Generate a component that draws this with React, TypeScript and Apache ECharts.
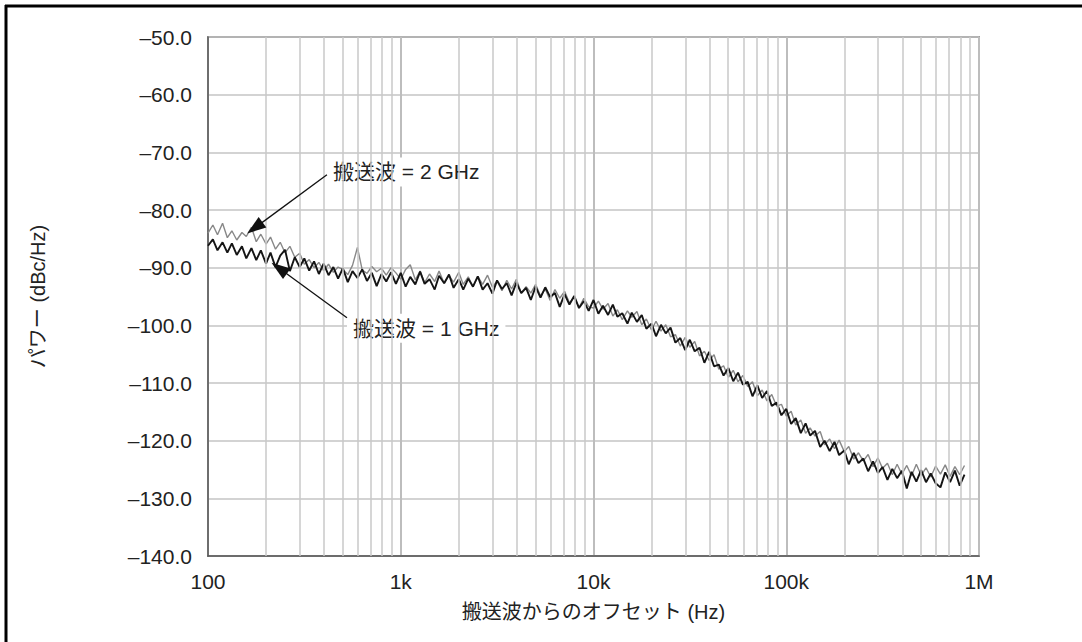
import React, { useEffect, useRef } from 'react';
import * as echarts from 'echarts';

const FONT = '"Liberation Sans", Arial, "Noto Sans CJK JP", sans-serif';

const freqs = [
  100, 106, 112, 119, 126, 133, 141, 150, 158, 168, 178, 188, 200, 211, 224, 237, 251, 266, 282, 299,
  316, 335, 355, 376, 398, 422, 447, 473, 501, 531, 562, 596, 631, 668, 708, 750, 794, 841, 891, 944,
  1000, 1060, 1120, 1190, 1260, 1330, 1410, 1500, 1580, 1680, 1780, 1880, 2000, 2110, 2240, 2370, 2510, 2660, 2820, 2990,
  3160, 3350, 3550, 3760, 3980, 4220, 4470, 4730, 5010, 5310, 5620, 5960, 6310, 6680, 7080, 7500, 7940, 8410, 8910, 9440,
  10000, 10600, 11200, 11900, 12600, 13300, 14100, 15000, 15800, 16800, 17800, 18800, 20000, 21100, 22400, 23700, 25100, 26600, 28200, 29900,
  31600, 33500, 35500, 37600, 39800, 42200, 44700, 47300, 50100, 53100, 56200, 59600, 63100, 66800, 70800, 75000, 79400, 84100, 89100, 94400,
  100000, 106000, 112000, 119000, 126000, 133000, 141000, 150000, 158000, 168000, 178000, 188000, 200000, 211000, 224000, 237000, 251000, 266000, 282000, 299000,
  316000, 335000, 355000, 376000, 398000, 422000, 447000, 473000, 501000, 531000, 562000, 596000, 631000, 668000, 708000, 750000, 794000, 841000,
];

const carrier2GHz = [
  -84.0, -82.6, -84.3, -82.3, -84.8, -83.6, -85.2, -83.9, -84.6, -83.0, -85.5, -84.2, -85.9, -84.7, -86.8, -85.6, -87.4, -86.3, -88.2, -87.5,
  -89.4, -88.6, -90.0, -89.1, -90.5, -89.4, -90.8, -89.9, -90.3, -91.2, -89.6, -86.5, -90.4, -91.0, -89.8, -90.7, -90.1, -91.3, -90.0, -90.9,
  -92.0, -90.3, -89.5, -92.1, -90.6, -92.6, -91.1, -92.4, -90.6, -92.7, -91.4, -92.5, -90.8, -92.9, -91.6, -93.3, -91.5, -92.9, -91.3, -93.4,
  -92.3, -94.0, -92.2, -93.7, -92.0, -94.4, -93.3, -94.4, -92.9, -94.9, -93.7, -95.7, -93.8, -95.3, -94.1, -96.1, -95.1, -96.9, -95.3, -96.8,
  -97.0, -95.8, -97.2, -96.2, -98.4, -97.3, -99.0, -97.5, -98.6, -97.6, -99.9, -98.9, -100.8, -99.3, -101.0, -99.9, -102.0, -101.6, -103.6, -102.1,
  -103.8, -102.8, -105.3, -104.5, -106.1, -105.1, -107.6, -107.0, -109.0, -107.8, -109.8, -108.7, -110.6, -109.8, -112.2, -111.2, -113.1, -112.0, -114.0, -113.7,
  -115.7, -114.9, -117.3, -116.4, -118.7, -117.8, -119.2, -118.4, -120.7, -119.7, -121.4, -119.9, -121.9, -121.0, -123.2, -122.1, -123.5, -122.4, -124.5, -123.0,
  -124.8, -123.9, -125.9, -124.1, -125.8, -124.3, -126.1, -124.1, -126.0, -124.7, -126.3, -124.4, -125.8, -124.2, -126.2, -124.5, -125.9, -124.3,
];

const carrier1GHz = [
  -86.2, -85.1, -87.0, -85.6, -87.4, -85.8, -87.8, -86.3, -88.4, -86.6, -88.7, -87.0, -89.3, -87.4, -89.9, -87.9, -86.9, -90.6, -88.2, -89.9,
  -88.4, -90.5, -88.9, -91.1, -89.3, -91.3, -89.9, -91.9, -90.1, -92.5, -90.6, -91.8, -90.3, -92.3, -90.9, -93.2, -91.1, -92.4, -90.8, -92.8,
  -90.9, -93.3, -91.6, -92.9, -90.7, -92.8, -92.0, -93.8, -91.4, -92.7, -91.2, -93.5, -92.0, -93.8, -91.9, -93.3, -91.5, -93.8, -92.7, -94.5,
  -92.2, -93.7, -92.7, -94.8, -92.6, -94.4, -93.5, -95.6, -93.3, -95.2, -93.4, -95.1, -94.4, -96.8, -94.6, -96.4, -94.9, -97.0, -95.8, -97.5,
  -95.6, -98.0, -96.6, -98.2, -96.4, -98.5, -97.9, -99.7, -97.8, -99.4, -98.2, -100.6, -99.7, -101.9, -99.9, -101.4, -100.4, -103.0, -102.2, -104.3,
  -102.5, -104.5, -103.9, -106.5, -104.6, -107.1, -106.8, -108.7, -107.4, -109.7, -108.2, -110.3, -109.8, -112.3, -110.4, -112.6, -111.4, -114.0, -113.4, -115.6,
  -114.5, -117.1, -116.1, -118.7, -117.0, -119.1, -118.3, -121.1, -120.0, -121.8, -120.2, -122.5, -121.7, -124.1, -122.1, -123.9, -123.1, -125.3, -123.6, -125.6,
  -124.6, -126.8, -124.9, -126.5, -125.2, -128.3, -125.4, -127.1, -125.1, -127.2, -125.7, -127.4, -128.1, -125.5, -127.2, -125.2, -127.8, -125.9,
];

const minorGridFreqs = [
  200, 300, 400, 500, 600, 700, 800, 900,
  2000, 3000, 4000, 5000, 6000, 7000, 8000, 9000,
  20000, 30000, 40000, 50000, 60000, 70000, 80000, 90000,
  200000, 300000, 400000, 500000, 600000, 700000, 800000, 900000,
];

const xTickLabels: Record<number, string> = { 100: '100', 1000: '1k', 10000: '10k', 100000: '100k', 1000000: '1M' };

const annotations = [
  { text: '搬送波 = 2 GHz', at: [445, -73.4], from: [414, -73.9], to: [175, -83.1] },
  { text: '搬送波 = 1 GHz', at: [565, -100.5], from: [526, -98.7], to: [234, -90.1] },
];

export default function App() {
  const ref = useRef<HTMLDivElement>(null);
  useEffect(() => {
    const chart = echarts.init(ref.current!, null, { renderer: 'svg' });
    const option: any = {
      animation: false,
      backgroundColor: '#fff',
      grid: { left: 208, right: 103, top: 37, bottom: 86, show: true, borderColor: '#555', borderWidth: 1.5 },
      xAxis: {
        type: 'log',
        logBase: 10,
        min: 100,
        max: 1000000,
        name: '搬送波からのオフセット (Hz)',
        nameLocation: 'middle',
        nameGap: 46,
        nameTextStyle: { fontFamily: FONT, fontSize: 20, color: '#222' },
        axisLine: { show: true, lineStyle: { color: '#555', width: 1.5 } },
        axisTick: { show: false },
        axisLabel: {
          fontFamily: FONT,
          fontSize: 21,
          color: '#222',
          margin: 15,
          formatter: (v: number) => xTickLabels[Math.round(v)] ?? '',
        },
        splitLine: { show: true, lineStyle: { color: '#bdbdbd', width: 2 } },
      },
      yAxis: {
        type: 'value',
        min: -140,
        max: -50,
        interval: 10,
        name: 'パワー (dBc/Hz)',
        nameLocation: 'middle',
        nameGap: 160,
        nameTextStyle: { fontFamily: FONT, fontSize: 20, color: '#222' },
        axisLine: { show: true, lineStyle: { color: '#555', width: 1.5 } },
        axisTick: { show: false },
        axisLabel: {
          fontFamily: FONT,
          fontSize: 21,
          color: '#222',
          margin: 16,
          formatter: (v: number) => (v < 0 ? '–' : '') + Math.abs(v).toFixed(1),
        },
        splitLine: { show: true, lineStyle: { color: '#c4c4c4', width: 1.5 } },
      },
      series: [
        {
          type: 'line',
          data: [],
          z: 1,
          silent: true,
          markLine: {
            silent: true,
            animation: false,
            symbol: ['none', 'none'],
            label: { show: false },
            lineStyle: { color: '#c8c8c8', width: 1.5, type: 'solid' },
            emphasis: { disabled: true },
            data: minorGridFreqs.map((f) => ({ xAxis: f })),
          },
        },
        {
          name: '搬送波 = 2 GHz',
          type: 'line',
          z: 3,
          data: freqs.map((f, i) => [f, carrier2GHz[i]]),
          showSymbol: false,
          lineStyle: { color: '#888888', width: 1.4 },
          silent: true,
        },
        {
          name: '搬送波 = 1 GHz',
          type: 'line',
          z: 4,
          data: freqs.map((f, i) => [f, carrier1GHz[i]]),
          showSymbol: false,
          lineStyle: { color: '#151515', width: 1.9 },
          silent: true,
          markLine: {
            silent: true,
            animation: false,
            symbol: ['none', 'triangle'],
            symbolSize: [13, 19],
            label: { show: false },
            lineStyle: { color: '#111', width: 1.3, type: 'solid' },
            itemStyle: { color: '#111' },
            emphasis: { disabled: true },
            data: annotations.map((a) => [{ coord: a.from }, { coord: a.to }]),
          },
        },
      ],
    };
    chart.setOption(option);
    const texts = annotations.map((a) => {
      const p = chart.convertToPixel({ gridIndex: 0 }, a.at) as number[];
      return {
        type: 'text',
        z: 2,
        x: p[0] - 6,
        y: p[1],
        style: {
          text: a.text,
          font: `21px ${FONT}`,
          fill: '#222',
          backgroundColor: '#fff',
          padding: [4, 6],
          verticalAlign: 'middle',
          align: 'left',
        },
      };
    });
    chart.setOption({
      graphic: [
        { type: 'line', shape: { x1: 5, y1: 6, x2: 1082, y2: 6 }, style: { stroke: '#000', lineWidth: 3 } },
        { type: 'line', shape: { x1: 6, y1: 5, x2: 6, y2: 642 }, style: { stroke: '#000', lineWidth: 3 } },
        ...texts,
      ],
    });
    return () => chart.dispose();
  }, []);
  return (
    <div
      ref={ref}
      style={{ position: 'fixed', left: 0, top: 0, width: 1082, height: 642, background: '#fff' }}
    />
  );
}
